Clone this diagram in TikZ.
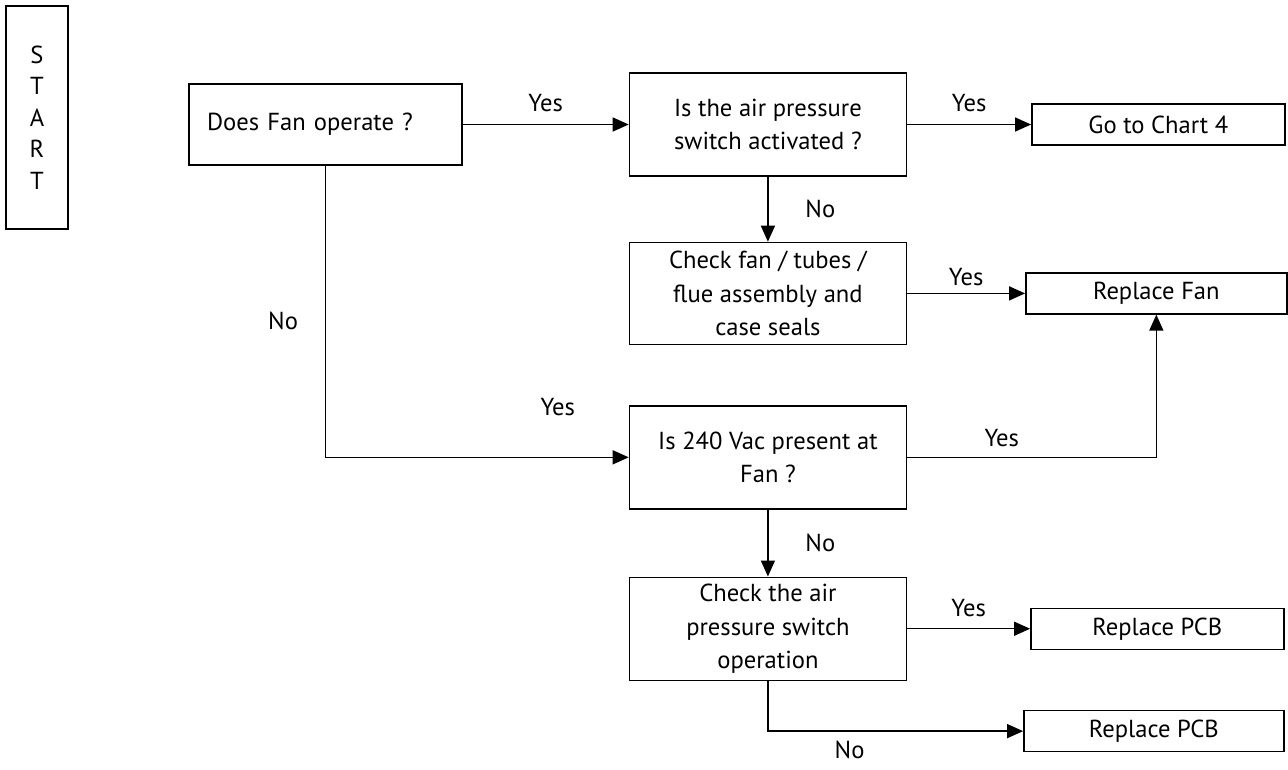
\documentclass[tikz,border=0pt]{standalone}
\usepackage{fontspec}
\setmainfont{PT Sans}
\usetikzlibrary{arrows.meta,positioning}

\begin{document}
\begin{tikzpicture}[font=\fontsize{14pt}{19pt}\selectfont,line width=0.8pt,
    qbox/.style={draw,align=center,inner ysep=1pt,minimum width=5.54cm,minimum height=2.06cm},
    endbox/.style={draw,minimum width=5.06cm,minimum height=0.82cm},
    flow/.style={-{Triangle[length=0.32cm,width=0.28cm]}}]
      \useasboundingbox (0,0) rectangle (25.76,-15.38);
      \node[draw,align=center,minimum width=1.24cm,minimum height=4.46cm,
        font=\fontsize{14pt}{18pt}\selectfont] (start) at (0.74,-2.35) {S\\T\\A\\R\\T};
      \node[draw,align=left,text width=4.74cm,inner xsep=0.36cm,minimum height=1.62cm] (fan) at (6.51,-2.49)
        {Does Fan operate ?};
      \node[qbox,right=3.32cm of fan] (air) {Is the air pressure\\switch activated ?};
      \node[endbox,right=2.48cm of air] (chart) {Go to Chart 4};
      \node[qbox,minimum height=2.04cm,below=1.3cm of air] (check)
        {Check fan / tubes /\\flue assembly and\\case seals};
      \node[endbox,minimum width=5.22cm,right=2.36cm of check] (repfan) {Replace Fan};
      \node[qbox,below=1.2cm of check] (vac) {Is 240 Vac present at\\Fan ?};
      \node[qbox,below=1.34cm of vac] (op) {Check the air\\pressure switch\\operation};
      \node[endbox,right=2.46cm of op] (pcba) {Replace PCB};
      \node[endbox,minimum width=5.2cm,below=1.2cm of pcba.south east,anchor=north east] (pcbb) {Replace PCB};

      \draw[flow] (fan) -- node[above=0.12cm] (yesa) {Yes} (air);
      \draw[flow] (air) -- node[above=0.12cm] (yesb) {Yes} (chart);
      \draw[flow] (air) -- node[right=0.62cm] (noa) {No} (check);
      \draw[flow] (check) -- node[above=0.03cm] (yesc) {Yes} (repfan);
      \draw[flow] (fan) |- node[pos=0.266,left=0.42cm] (nob) {No}
        node[pos=0.883,above=0.69cm] (yesd) {Yes} (vac);
      \draw[flow] (vac) -| node[pos=0.19,above=0.08cm] (yese) {Yes} (repfan);
      \draw[flow] (vac) -- node[right=0.62cm] (noc) {No} (op);
      \draw[flow] (op) -- node[above=0.1cm] (yesf) {Yes} (pcba);
      \draw[flow] (op) |- node[pos=0.66,below=0.14cm,inner sep=1pt] (nod) {No} (pcbb);
    \end{tikzpicture}
\end{document}
